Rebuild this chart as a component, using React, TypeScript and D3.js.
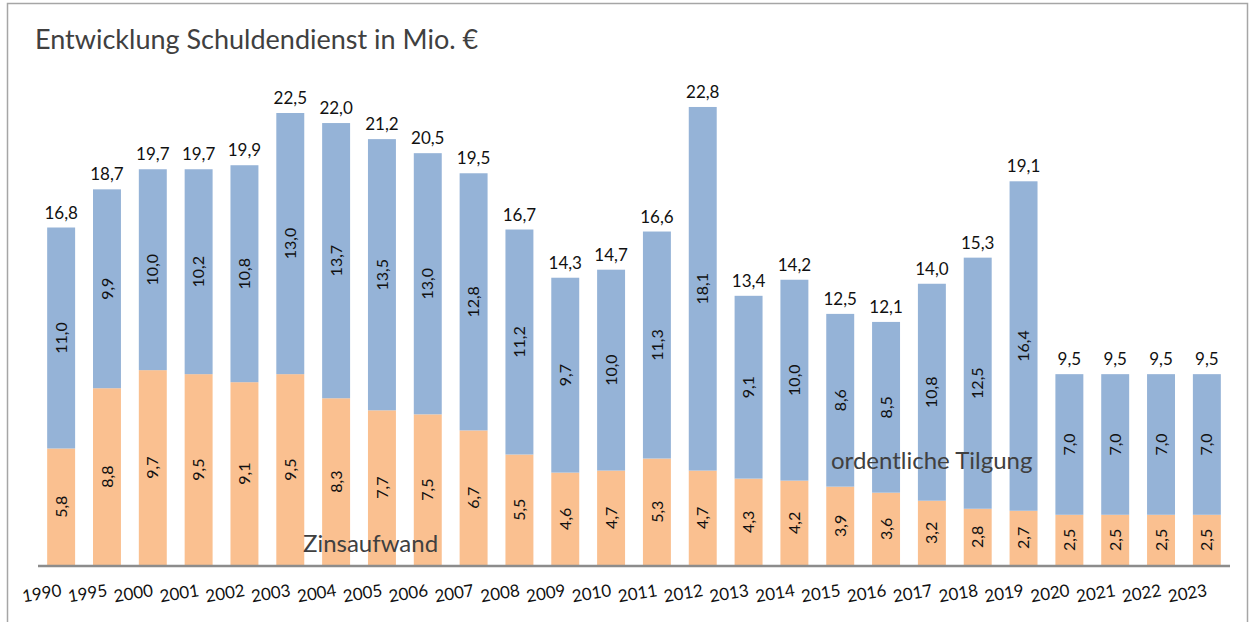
import { useEffect, useRef } from 'react';
import * as d3 from 'd3';

const years = ['1990', '1995', '2000', '2001', '2002', '2003', '2004', '2005', '2006', '2007', '2008', '2009', '2010', '2011', '2012', '2013', '2014', '2015', '2016', '2017', '2018', '2019', '2020', '2021', '2022', '2023'];
const zinsaufwand = [5.8, 8.8, 9.7, 9.5, 9.1, 9.5, 8.3, 7.7, 7.5, 6.7, 5.5, 4.6, 4.7, 5.3, 4.7, 4.3, 4.2, 3.9, 3.6, 3.2, 2.8, 2.7, 2.5, 2.5, 2.5, 2.5];
const tilgung = [11.0, 9.9, 10.0, 10.2, 10.8, 13.0, 13.7, 13.5, 13.0, 12.8, 11.2, 9.7, 10.0, 11.3, 18.1, 9.1, 10.0, 8.6, 8.5, 10.8, 12.5, 16.4, 7.0, 7.0, 7.0, 7.0];
const totals = [16.8, 18.7, 19.7, 19.7, 19.9, 22.5, 22.0, 21.2, 20.5, 19.5, 16.7, 14.3, 14.7, 16.6, 22.8, 13.4, 14.2, 12.5, 12.1, 14.0, 15.3, 19.1, 9.5, 9.5, 9.5, 9.5];

const W = 1257;
const H = 622;
const FONT = 'Lato, "Open Sans", sans-serif';
const fmt = (v: number) => v.toFixed(1).replace('.', ',');

const App = () => {
  const ref = useRef<SVGSVGElement>(null);

  useEffect(() => {
    const svg = d3.select(ref.current);
    svg.selectAll('*').remove();

    // frame
    svg.append('rect')
      .attr('x', 7.5).attr('y', 3.5)
      .attr('width', 1240).attr('height', 640)
      .attr('fill', 'white').attr('stroke', '#a6a6a6').attr('stroke-width', 1.5);

    svg.append('text').text('Entwicklung Schuldendienst in Mio. €')
      .attr('x', 35).attr('y', 49)
      .attr('font-family', FONT).attr('font-size', 27)
      .attr('fill', '#404040');

    const baseY = 565;
    const x = d3.scaleBand().domain(years).range([38, 1230]).paddingInner(0.39).paddingOuter(0.2);
    const y = d3.scaleLinear().domain([0, 22.5]).range([baseY, 113]);

    const data = years.map((yr, i) => ({ yr, z: zinsaufwand[i], t: tilgung[i], total: totals[i] }));
    const g = svg.append('g');

    // Zinsaufwand
    g.selectAll('rect.z').data(data).enter().append('rect')
      .attr('class', 'z')
      .attr('x', d => x(d.yr)!)
      .attr('width', x.bandwidth())
      .attr('y', d => y(d.z))
      .attr('height', d => baseY - y(d.z))
      .attr('fill', '#fac090');

    // ordentliche Tilgung
    g.selectAll('rect.t').data(data).enter().append('rect')
      .attr('class', 't')
      .attr('x', d => x(d.yr)!)
      .attr('width', x.bandwidth())
      .attr('y', d => y(d.z + d.t))
      .attr('height', d => y(d.z) - y(d.z + d.t))
      .attr('fill', '#95b3d7');

    const segLabel = (cx: number, cy: number, txt: string) => {
      g.append('text').text(txt)
        .attr('transform', `translate(${cx},${cy}) rotate(-90)`)
        .attr('text-anchor', 'middle').attr('dy', '0.35em')
        .attr('font-family', FONT).attr('font-size', 16)
        .attr('fill', '#111');
    };

    data.forEach(d => {
      const cx = x(d.yr)! + x.bandwidth() / 2;
      segLabel(cx, (baseY + y(d.z)) / 2, fmt(d.z));
      segLabel(cx, (y(d.z) + y(d.z + d.t)) / 2, fmt(d.t));
      g.append('text').text(fmt(d.total))
        .attr('x', cx).attr('y', y(d.z + d.t) - 9)
        .attr('text-anchor', 'middle')
        .attr('font-family', FONT).attr('font-size', 17)
        .attr('fill', '#111');
    });

    // axis line
    svg.append('line')
      .attr('x1', 38).attr('x2', 1230)
      .attr('y1', baseY + 1).attr('y2', baseY + 1)
      .attr('stroke', '#8c8c8c').attr('stroke-width', 2.5);

    // x labels
    data.forEach(d => {
      const cx = x(d.yr)! + x.bandwidth() / 2;
      svg.append('text').text(d.yr)
        .attr('transform', `translate(${cx + 1},${596}) rotate(-9)`)
        .attr('text-anchor', 'end')
        .attr('font-family', FONT).attr('font-size', 17)
        .attr('fill', '#111');
    });

    // series names
    svg.append('text').text('Zinsaufwand')
      .attr('x', 303).attr('y', 552)
      .attr('font-family', FONT).attr('font-size', 24)
      .attr('fill', '#404040');
    svg.append('text').text('ordentliche Tilgung')
      .attr('x', 831).attr('y', 469)
      .attr('font-family', FONT).attr('font-size', 24)
      .attr('fill', '#404040');
  }, []);

  return (
    <svg ref={ref} width={W} height={H}
      style={{ position: 'absolute', left: 0, top: 0, background: 'white' }} />
  );
};

export default App;
